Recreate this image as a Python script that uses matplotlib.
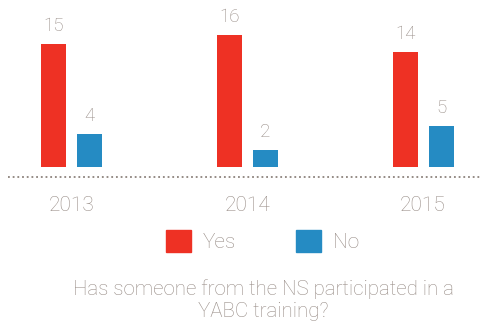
import matplotlib.pyplot as plt
from matplotlib.patches import Rectangle
import numpy as np

years = ['2013', '2014', '2015']
yes_counts = [15, 16, 14]
no_counts = [4, 2, 5]
series_labels = ['Yes', 'No']
question = 'Has someone from the NS participated in a\nYABC training?'

red = '#ee3124'
blue = '#258bc3'
text_grey = '#978c86'

plt.rcParams['font.family'] = ['Roboto', 'DejaVu Sans']
plt.rcParams['font.weight'] = 'light'

fig = plt.figure(figsize=(4.8, 3.23), dpi=100)
ax = fig.add_axes([0, 0, 1, 1])

x = np.arange(len(years))
width = 0.142
offset = 0.1024

bars_yes = ax.bar(x - offset, yes_counts, width, color=red)
bars_no = ax.bar(x + offset, no_counts, width, color=blue)

for bars, vals in [(bars_yes, yes_counts), (bars_no, no_counts)]:
    for b, v in zip(bars, vals):
        ax.annotate(str(v), (b.get_x() + b.get_width() / 2, v),
                    xytext=(0, 9), textcoords='offset pixels',
                    ha='center', va='bottom', fontsize=13.5,
                    color=text_grey)

# scale: ~8.2 px per unit, baseline 156 px above the bottom edge
ax.set_xlim(-0.407, 2.324)
ax.set_ylim(-19.04, 20.3)

ax.plot([8 / 175.75 - 0.407, 2.324], [-1.25, -1.25], color='#8c827c',
        linestyle=(0, (1, 1.6)), linewidth=1.3)

for xi, yr in zip(x, years):
    ax.text(xi, -4.7, yr, ha='center', va='center', fontsize=15,
            color=text_grey)

ax.axis('off')

# legend squares and labels
W, H = 480, 323
for left, col, lab in [(166, red, series_labels[0]), (296, blue, series_labels[1])]:
    fig.patches.append(Rectangle((left / W, (H - 252) / H), 25 / W, 22 / H,
                                 transform=fig.transFigure, color=col))
    fig.text((left + 37) / W, (H - 242) / H, lab, ha='left', va='center',
             fontsize=15, color=text_grey)

fig.text(263.5 / W, (H - 300) / H, question, ha='center', va='center',
         fontsize=14.8, color=text_grey, linespacing=1.2)

fig.savefig('out.png', dpi=100, facecolor='white')
